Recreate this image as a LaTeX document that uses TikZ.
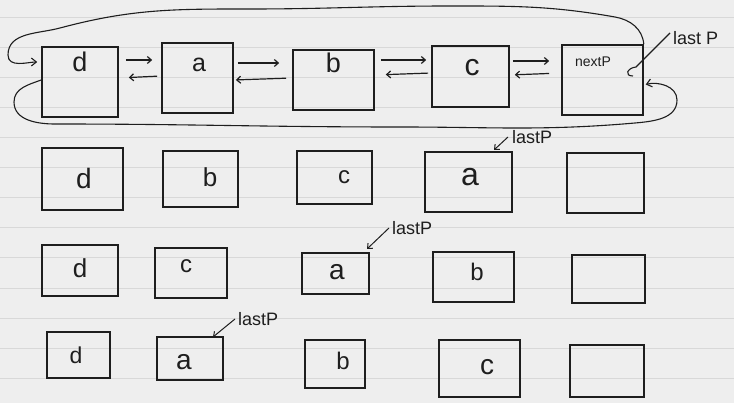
\documentclass[tikz,border=0pt]{standalone}
\usepackage{fontspec}
\setmainfont{Liberation Sans}
\usetikzlibrary{arrows.meta,calc}
\definecolor{paper}{RGB}{238,238,238}
\definecolor{rulec}{RGB}{216,216,216}
\definecolor{ink}{RGB}{30,30,30}
\tikzset{
  box/.style={draw=ink, line width=1.6pt, inner sep=0pt},
  lt/.style={font=\fontsize{#1}{#1}\selectfont, text=ink, inner sep=0pt},
  arr/.style={draw=ink, line width=1.2pt, -{Straight Barb[length=4pt,width=7pt]}},
  loopline/.style={draw=ink, line width=1.1pt},
  ptr/.style={font=\fontsize{18}{18}\selectfont, text=ink, inner sep=0pt},
}
\begin{document}
\begin{tikzpicture}[x=1pt,y=1pt]
\fill[paper] (0,0) rectangle (734,-403);
\useasboundingbox (0,0) rectangle (734,-403);
\foreach \k in {0,...,12} \draw[rulec, line width=0.6pt] (0,{-17-30.1*\k}) -- (734,{-17-30.1*\k});

% ---- row 1 : circular doubly linked list
\node[box, minimum width=76pt, minimum height=70pt, label={[lt=27, yshift=20pt]center:d}] (d1) at (80,-82) {};
\node[box, minimum width=71pt, minimum height=70pt, label={[lt=25, xshift=1.5pt, yshift=13pt]center:a}] (a1) at (197.5,-78) {};
\node[box, minimum width=81pt, minimum height=60pt, label={[lt=27, yshift=17pt]center:b}] (b1) at (333.5,-80) {};
\node[box, minimum width=77pt, minimum height=61pt, label={[lt=30, xshift=1.5pt, yshift=8.5pt]center:c}] (c1) at (470.5,-76.5) {};
\node[box, minimum width=81pt, minimum height=70pt, label={[lt=14, xshift=-9.5pt, yshift=18pt]center:nextP}] (n1) at (602.5,-80) {};

\draw[arr, shorten <=7pt, shorten >=9pt] (d1.east |- 0,-60) -- (a1.west |- 0,-60);
\draw[arr, shorten <=4pt, shorten >=10pt] (a1.west |- 0,-76) -- (d1.east |- 0,-78);
\draw[arr, shorten <=4pt, shorten >=13pt] (a1.east |- 0,-63) -- (b1.west |- 0,-63);
\draw[arr, shorten <=6pt, shorten >=2pt] (b1.west |- 0,-78) -- (a1.east |- 0,-80);
\draw[arr, shorten <=6pt, shorten >=5pt] (b1.east |- 0,-60) -- (c1.west |- 0,-60);
\draw[arr, shorten <=3pt, shorten >=11pt] (c1.west |- 0,-73) -- (b1.east |- 0,-75);
\draw[arr, shorten <=3pt, shorten >=12pt] (c1.east |- 0,-61) -- (n1.west |- 0,-61);
\draw[arr, shorten <=12pt, shorten >=5pt] (n1.west |- 0,-73) -- (c1.east |- 0,-75);

\draw[loopline, -{Straight Barb[length=5pt,width=8pt]}, shorten >=4pt]
  (n1.north east) to[out=95,in=-10] (615,-17) to[out=170,in=0] (450,-6)
  to[out=180,in=0] (250,-9) to[out=180,in=15] (60,-28) to[out=195,in=90] (8,-55)
  to[out=-90,in=180] (d1.west |- 0,-62);
\draw[loopline, -{Straight Barb[length=5pt,width=8pt]}, shorten >=2pt]
  (d1.west |- 0,-80) to[out=200,in=90] (14,-102) to[out=-90,in=180] (55,-124)
  to[out=0,in=180] (400,-127) to[out=0,in=185] (635,-123) to[out=5,in=-90] (677,-100)
  to[out=90,in=15] (n1.east |- 0,-85);

\node[lt=18, anchor=west] (lp1) at (673,-38) {last P};
\coordinate (h1) at (636,-67);
\draw[loopline] ([shift={(-3pt,5pt)}]lp1.west) -- (h1) .. controls (627,-68) and (624,-76) .. (633,-76);

% ---- row 2
\node[box, minimum width=81pt, minimum height=62pt, label={[lt=28, xshift=1.5pt, yshift=1pt]center:d}] (d2) at (82.5,-179) {};
\node[box, minimum width=75pt, minimum height=56pt, label={[lt=26, xshift=9.5pt, yshift=2pt]center:b}] (b2) at (200.5,-179) {};
\node[box, minimum width=75pt, minimum height=53pt, label={[lt=24, xshift=9.5pt, yshift=0.5pt]center:c}] (c2) at (334.5,-177.5) {};
\node[box, minimum width=87pt, minimum height=60pt, label={[lt=32, xshift=1.5pt, yshift=5pt]center:a}] (a2) at (468.5,-182) {};
\node[box, minimum width=77pt, minimum height=60pt] (e2) at (605.5,-183) {};
\node[ptr, anchor=west] (lp2) at (512,-137) {lastP};
\coordinate (t2) at (494,-150);
\draw[arr, line width=1pt] ([xshift=-4pt]lp2.west) -- (t2);

% ---- row 3
\node[box, minimum width=76pt, minimum height=51pt, label={[lt=26, yshift=2pt]center:d}] (d3) at (80,-270.5) {};
\node[box, minimum width=72pt, minimum height=50pt, label={[lt=24, xshift=-5pt, yshift=7pt]center:c}] (c3) at (191,-273) {};
\node[box, minimum width=67pt, minimum height=41pt, label={[lt=28, xshift=1.5pt, yshift=1.5pt]center:a}] (a3) at (335.5,-273.5) {};
\node[box, minimum width=81pt, minimum height=50pt, label={[lt=24, xshift=3.5pt, yshift=5pt]center:b}] (b3) at (473.5,-277) {};
\node[box, minimum width=73pt, minimum height=48pt] (e3) at (608.5,-279) {};
\node[ptr, anchor=west] (lp3) at (392,-228) {lastP};
\coordinate (t3) at (367,-249);
\draw[arr, line width=1pt] ([xshift=-3pt]lp3.west) -- (t3);

% ---- row 4
\node[box, minimum width=63pt, minimum height=46pt, label={[lt=23, xshift=-2.5pt]center:d}] (d4) at (78.5,-355) {};
\node[box, minimum width=66pt, minimum height=43pt, label={[lt=28, xshift=-6pt, yshift=-3.5pt]center:a}] (a4) at (190,-358.5) {};
\node[box, minimum width=60pt, minimum height=48pt, label={[lt=24, xshift=8pt, yshift=3pt]center:b}] (b4) at (335,-364) {};
\node[box, minimum width=81pt, minimum height=57pt, label={[lt=28, xshift=7.5pt, yshift=1.5pt]center:c}] (c4) at (479.5,-368.5) {};
\node[box, minimum width=74pt, minimum height=52pt] (e4) at (607,-371) {};
\node[ptr, anchor=west] (lp4) at (238,-319) {lastP};
\coordinate (t4) at (213,-337);
\draw[arr, line width=1pt] ([xshift=-3pt]lp4.west) -- (t4);
\end{tikzpicture}
\end{document}
